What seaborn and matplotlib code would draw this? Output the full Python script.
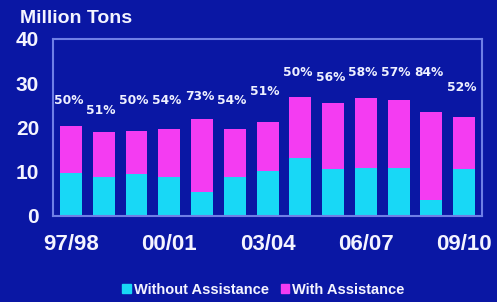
import matplotlib
matplotlib.use("Agg")
import matplotlib.pyplot as plt
import seaborn as sns
import pandas as pd
import numpy as np
from matplotlib.patches import Patch

seasons = ["97/98", "98/99", "99/00", "00/01", "01/02", "02/03", "03/04",
           "04/05", "05/06", "06/07", "07/08", "08/09", "09/10"]
without_assist = [9.7, 8.8, 9.5, 8.8, 5.4, 8.8, 10.2, 13.1, 10.6, 10.8, 10.8, 3.6, 10.6]
total = [20.3, 18.9, 19.2, 19.6, 21.9, 19.6, 21.2, 26.9, 25.5, 26.6, 26.2, 23.5, 22.3]
pct_labels = ["50%", "51%", "50%", "54%", "73%", "54%", "51%",
              "50%", "56%", "58%", "57%", "84%", "52%"]
tick_labels = ["97/98", "", "", "00/01", "", "", "03/04", "", "", "06/07", "", "", "09/10"]

BG = "#0a17a4"
CYAN = "#18d8f6"
MAGENTA = "#f43cf2"
AXC = "#6f7fe6"

sns.set_theme(style="white")
plt.rcParams['font.family'] = ['Liberation Sans', 'DejaVu Sans']

df = pd.DataFrame({"season": seasons, "without": without_assist, "total": total})

fig = plt.figure(figsize=(4.97, 3.02), dpi=100, facecolor=BG)
ax = fig.add_axes([0.1066, 0.2848, 0.8634, 0.5862])
ax.set_facecolor(BG)

sns.barplot(data=df, x="season", y="total", color=MAGENTA, width=0.67,
            saturation=1, ax=ax, edgecolor="none")
sns.barplot(data=df, x="season", y="without", color=CYAN, width=0.67,
            saturation=1, ax=ax, edgecolor="none")

# label offsets above bar top (layout)
offsets = [5.9, 5.0, 7.0, 6.6, 5.0, 6.6, 7.0, 5.6, 5.9, 5.9, 6.3, 9.0, 6.8]
for i, (t, lab) in enumerate(zip(total, pct_labels)):
    ax.text(i - 0.08, t + offsets[i], lab, color="#eef0ff", fontsize=8.8,
            fontweight="bold", ha="center", va="center", family="DejaVu Sans")

ax.set_xlim(-0.55, 12.55)
ax.set_ylim(0, 40)
ax.set_yticks([0, 10, 20, 30, 40])
ax.set_yticklabels(["0", "10", "20", "30", "40"], color="#f4f4ff",
                   fontsize=15, fontweight="bold")
ax.set_xticks(range(len(seasons)))
ax.set_xticklabels(tick_labels, color="#f4f4ff", fontsize=16, fontweight="bold")
ax.tick_params(axis="x", length=0, pad=13)
ax.set_xticks(np.arange(-0.5, 13, 1), minor=True)
ax.tick_params(axis="x", which="minor", length=4, color=AXC, width=1, direction="out")
ax.tick_params(axis="y", length=4, color=AXC, width=1, direction="out", pad=6)
ax.set_xlabel("")
ax.set_ylabel("")
for s in ax.spines.values():
    s.set_visible(True)
    s.set_color(AXC)
    s.set_linewidth(1.5)

fig.text(0.04, 0.94, "Million Tons", color="#f4f4ff", fontsize=14,
         fontweight="bold", ha="left", va="center")

handles = [Patch(color=CYAN, label="Without Assistance"),
           Patch(color=MAGENTA, label="With Assistance")]
leg = fig.legend(handles=handles, loc="center", bbox_to_anchor=(0.53, 0.04),
                 ncol=2, frameon=False, fontsize=10.5, handlelength=0.6,
                 handleheight=0.6, handletextpad=0.2, columnspacing=0.8)
for t in leg.get_texts():
    t.set_color("#f4f4ff")
    t.set_fontweight("bold")

fig.savefig("out.png", dpi=100, facecolor=BG)
